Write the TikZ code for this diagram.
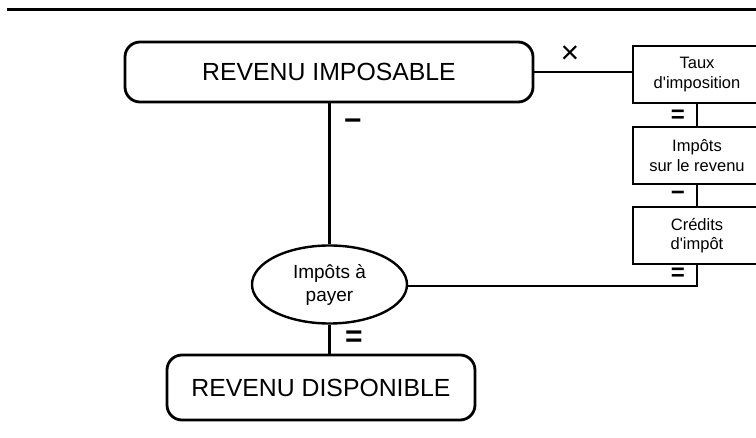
\documentclass[tikz,border=0pt]{standalone}
\usepackage{fontspec}
\setmainfont{Liberation Sans}
\usetikzlibrary{shapes.geometric}
\tikzset{
  bigbox/.style={draw, line width=2.8pt, rounded corners=15pt, inner sep=0pt,
    font=\fontsize{24.8}{28}\selectfont},
  sidebox/.style={draw, line width=1.8pt, inner sep=0pt, minimum width=128pt,
    minimum height=57pt, align=center, font=\fontsize{16.5}{19.5}\selectfont},
  oval/.style={draw, ellipse, line width=2.4pt, inner sep=0pt, minimum width=155pt,
    minimum height=78pt, align=center, font=\fontsize{19}{23}\selectfont},
  mainlink/.style={line width=3.4pt},
  sidelink/.style={line width=2pt},
  op/.style={inner sep=0pt, font=\fontsize{30}{30}\selectfont\bfseries},
  smallop/.style={inner sep=0pt, font=\fontsize{24}{24}\selectfont\bfseries}
}
\begin{document}
\begin{tikzpicture}[x=1pt, y=-1pt]
  \useasboundingbox (0,0) rectangle (756,438);
  \clip (0,0) rectangle (756,438);

  % rule across the top of the page
  \coordinate (ruleL) at (7,9.5);
  \coordinate (ruleR) at (756,9.5);
  \draw[line width=3.4pt] (ruleL) -- (ruleR);

  % main chain
  \node[bigbox, minimum width=408pt, minimum height=60pt] (imp) at (329,72) {REVENU IMPOSABLE};
  \node[oval] (pay) at (329.5,284.5) {Imp\^ots \`a\\payer};
  \node[bigbox, minimum width=308pt, minimum height=65pt] (disp) at (321,387.5) {REVENU DISPONIBLE};

  % side computation
  \node[sidebox] (taux) at (697,74.5) {Taux\\d\textquotesingle imposition};
  \node[sidebox] (ir) at (697,155.5) {Imp\^ots\\sur le revenu};
  \node[sidebox] (cred) at (697,235.5) {Cr\'edits\\d\textquotesingle imp\^ot};

  % connectors
  \draw[mainlink] (imp.south -| pay.north) -- (pay.north);
  \draw[mainlink] (pay.south) -- (pay.south |- disp.north);
  \draw[sidelink] (imp.east) -- (imp.east -| taux.west);
  \draw[sidelink] (taux.south) -- (ir.north);
  \draw[sidelink] (ir.south) -- (cred.north);
  \draw[sidelink] (cred.south) |- ([yshift=-2pt]pay.east);

  % operators
  \node[op] (minusA) at (353,125) {−};
  \node[op] (eqA) at (354,339) {=};
  \node[inner sep=0pt, font=\fontsize{32}{32}\selectfont] (times) at (570,55) {×};
  \node[smallop] (eqB) at (678,116) {=};
  \node[smallop] (minusB) at (678,196) {−};
  \node[smallop] (eqC) at (678,274) {=};
\end{tikzpicture}
\end{document}
